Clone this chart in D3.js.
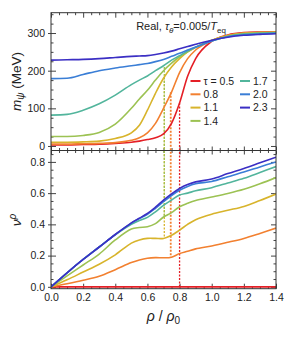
<!DOCTYPE html>
<html>
<head>
<meta charset="utf-8">
<script src="https://cdn.jsdelivr.net/npm/d3@7"></script>
<style>
  body { margin: 0; background: #fff; }
  text { font-family: "Liberation Sans", Arial, sans-serif; fill: #222; }
</style>
</head>
<body>
<svg id="chart" width="291" height="337"></svg>
<script>
// DATA

const rho = [0, 0.1, 0.2, 0.3, 0.4, 0.5, 0.55, 0.6, 0.65, 0.7, 0.75, 0.8, 0.85, 0.9, 1.0, 1.1, 1.2, 1.3, 1.4];
const taus = [0.5, 0.8, 1.1, 1.4, 1.7, 2.0, 2.3];
const tauLabels = ["τ = 0.5", "0.8", "1.1", "1.4", "1.7", "2.0", "2.3"];
const colors = ["#e41f26", "#f28030", "#d8b42c", "#9cc253", "#52b59c", "#3a7ed6", "#3b2fc4"];

// m_psi (MeV), one array per tau
const mass05 = [3, 3, 4, 5, 7, 10, 13, 17, 22, 32, 60, 114, 185, 232, 278, 295, 301, 302.5, 303];
const mass08 = [5, 5, 6, 7, 9, 15, 22, 35, 60, 100, 143, 195, 232, 255, 280, 294, 300, 302, 302.5];
const mass11 = [10, 10, 11, 13, 20, 35, 55, 95, 140, 180, 210, 232, 250, 262, 281, 293, 299, 301, 302];
const mass14 = [25, 25, 28, 36, 58, 100, 125, 148, 175, 200, 220, 237, 250, 262, 280, 292, 298, 300, 301];
const mass17 = [82, 84, 95, 112, 135, 163, 175, 186, 200, 213, 228, 240, 252, 262, 279, 291, 297, 299, 300.5];
const mass20 = [179, 180, 190, 200, 207, 213, 216, 219, 224, 230, 238, 246, 255, 263, 279, 290, 295, 297.5, 299.5];
const mass23 = [228, 229, 230, 232, 235, 238, 239, 240, 243, 247, 252, 258, 264, 270, 281, 289, 294, 296.5, 298];

// nu^rho, one array per tau
const nu05 = [0, 0, 0, 0, 0, 0, 0, 0, 0, 0, 0, 0, 0, 0, 0, 0, 0, 0, 0];
const nu08 = [0, 0.02, 0.042, 0.068, 0.11, 0.155, 0.172, 0.183, 0.187, 0.186, 0.19, 0.213, 0.228, 0.243, 0.262, 0.285, 0.31, 0.342, 0.376];
const nu11 = [0, 0.045, 0.095, 0.145, 0.205, 0.28, 0.30, 0.31, 0.31, 0.31, 0.33, 0.363, 0.40, 0.43, 0.465, 0.49, 0.515, 0.553, 0.594];
const nu14 = [0, 0.07, 0.14, 0.21, 0.30, 0.37, 0.38, 0.385, 0.405, 0.447, 0.475, 0.513, 0.535, 0.553, 0.575, 0.598, 0.625, 0.66, 0.70];
const nu17 = [0, 0.09, 0.175, 0.255, 0.333, 0.40, 0.425, 0.445, 0.48, 0.522, 0.556, 0.588, 0.60, 0.615, 0.635, 0.665, 0.695, 0.732, 0.77];
const nu20 = [0, 0.09, 0.175, 0.255, 0.335, 0.408, 0.437, 0.465, 0.503, 0.545, 0.585, 0.618, 0.643, 0.66, 0.675, 0.705, 0.735, 0.768, 0.80];
const nu23 = [0, 0.09, 0.175, 0.255, 0.335, 0.41, 0.44, 0.47, 0.51, 0.555, 0.595, 0.63, 0.655, 0.672, 0.69, 0.725, 0.758, 0.794, 0.83];

// dotted transition markers: series index, rho, m at top end, nu at bottom end
const markSeries = [2, 3, 1, 0];
const markRho = [0.705, 0.705, 0.745, 0.80];
const markMass = [183, 210, 143, 114];
const markNu = [0.317, 0.447, 0.188, 0];

const massSeries = [mass05, mass08, mass11, mass14, mass17, mass20, mass23];
const nuSeries = [nu05, nu08, nu11, nu14, nu17, nu20, nu23];

// LAYOUT

const plotLeft = 51, plotRight = 276, plotTop = 12.7, plotMid = 150.5, plotBottom = 288.7;
const svg = d3.select("#chart");

const x = d3.scaleLinear().domain([0, 1.4]).range([plotLeft, plotRight]);
const yTop = d3.scaleLinear().domain([-12, 354]).range([plotMid, plotTop]);
const yBot = d3.scaleLinear().domain([-0.012, 0.873]).range([plotBottom, plotMid]);

const xMajor = d3.range(0, 1.41, 0.2);
const xMinor = d3.range(0, 1.41, 0.05).filter(v => Math.abs(v / 0.2 - Math.round(v / 0.2)) > 0.01);
const mMajor = [0, 100, 200, 300];
const mMinor = d3.range(0, 351, 25).filter(v => v % 100 !== 0);
const nuMajor = [0, 0.2, 0.4, 0.6, 0.8];
const nuMinor = d3.range(0, 0.86, 0.05).filter(v => Math.abs(v / 0.2 - Math.round(v / 0.2)) > 0.01);

function styleAxis(g) {
    g.select(".domain").remove();
    g.selectAll("line").attr("stroke", "#444").attr("stroke-width", 1);
    g.selectAll("text").attr("font-size", 10.5).attr("font-family", "Liberation Sans, Arial, sans-serif").attr("fill", "#222");
}

function addAxis(axis, tx, ty) {
    svg.append("g").attr("transform", `translate(${tx},${ty})`).call(axis).call(styleAxis);
}

// x ticks: top edge, divider, bottom edge
addAxis(d3.axisBottom(x).tickValues(xMajor).tickSize(5).tickFormat(""), 0, plotTop);
addAxis(d3.axisBottom(x).tickValues(xMinor).tickSize(2.5).tickFormat(""), 0, plotTop);
addAxis(d3.axisBottom(x).tickValues(xMajor).tickSize(4).tickFormat(""), 0, plotMid);
addAxis(d3.axisTop(x).tickValues(xMajor).tickSize(4).tickFormat(""), 0, plotMid);
addAxis(d3.axisBottom(x).tickValues(xMinor).tickSize(2.5).tickFormat(""), 0, plotMid);
addAxis(d3.axisTop(x).tickValues(xMinor).tickSize(2.5).tickFormat(""), 0, plotMid);
addAxis(d3.axisBottom(x).tickValues(xMajor).tickSizeInner(-5).tickSizeOuter(0).tickPadding(5).tickFormat(d3.format(".1f")), 0, plotBottom);
addAxis(d3.axisTop(x).tickValues(xMinor).tickSize(2.5).tickFormat(""), 0, plotBottom);

// y ticks upper panel
addAxis(d3.axisLeft(yTop).tickValues(mMajor).tickSizeInner(-5).tickSizeOuter(0).tickPadding(6).tickFormat(d3.format("d")), plotLeft, 0);
addAxis(d3.axisLeft(yTop).tickValues(mMajor).tickSize(3).tickFormat(""), plotLeft, 0);
addAxis(d3.axisRight(yTop).tickValues(mMinor).tickSize(2.5).tickFormat(""), plotLeft, 0);
addAxis(d3.axisLeft(yTop).tickValues(mMajor).tickSize(5).tickFormat(""), plotRight, 0);
addAxis(d3.axisLeft(yTop).tickValues(mMinor).tickSize(2.5).tickFormat(""), plotRight, 0);

// y ticks lower panel
addAxis(d3.axisLeft(yBot).tickValues(nuMajor).tickSizeInner(-5).tickSizeOuter(0).tickPadding(6).tickFormat(d3.format(".1f")), plotLeft, 0);
addAxis(d3.axisLeft(yBot).tickValues(nuMajor).tickSize(3).tickFormat(""), plotLeft, 0);
addAxis(d3.axisRight(yBot).tickValues(nuMinor).tickSize(2.5).tickFormat(""), plotLeft, 0);
addAxis(d3.axisLeft(yBot).tickValues(nuMajor).tickSize(5).tickFormat(""), plotRight, 0);
addAxis(d3.axisLeft(yBot).tickValues(nuMinor).tickSize(2.5).tickFormat(""), plotRight, 0);

// clip each panel
const defs = svg.append("defs");
defs.append("clipPath").attr("id", "clipTop").append("rect")
    .attr("x", plotLeft).attr("y", plotTop).attr("width", plotRight - plotLeft).attr("height", plotMid - plotTop);
defs.append("clipPath").attr("id", "clipBot").append("rect")
    .attr("x", plotLeft).attr("y", plotMid).attr("width", plotRight - plotLeft).attr("height", plotBottom - plotMid);

// dotted markers (drawn under the curves)
const marks = svg.append("g");
markSeries.forEach((s, i) => {
    marks.append("line")
        .attr("x1", x(markRho[i])).attr("x2", x(markRho[i]))
        .attr("y1", yTop(markMass[i])).attr("y2", yBot(markNu[i]))
        .attr("stroke", colors[s])
        .attr("stroke-width", s === 1 ? 1.8 : 1.3)
        .attr("stroke-dasharray", "2,1.5");
});

const lineTop = d3.line().x((d, i) => x(rho[i])).y(d => yTop(d)).curve(d3.curveMonotoneX);
const lineBot = d3.line().x((d, i) => x(rho[i])).y(d => yBot(d)).curve(d3.curveCatmullRom.alpha(0.5));

svg.append("g").attr("clip-path", "url(#clipTop)")
    .selectAll("path").data(massSeries).join("path")
    .attr("d", lineTop)
    .attr("fill", "none")
    .attr("stroke", (d, i) => colors[i])
    .attr("stroke-width", 1.6);

svg.append("g").attr("clip-path", "url(#clipBot)")
    .selectAll("path").data(nuSeries).join("path")
    .attr("d", lineBot)
    .attr("fill", "none")
    .attr("stroke", (d, i) => colors[i])
    .attr("stroke-width", 1.6);

// frame and divider
svg.append("rect")
    .attr("x", plotLeft).attr("y", plotTop).attr("width", plotRight - plotLeft).attr("height", plotBottom - plotTop)
    .attr("fill", "none").attr("stroke", "#333").attr("stroke-width", 1);
svg.append("line")
    .attr("x1", plotLeft).attr("x2", plotRight).attr("y1", plotMid).attr("y2", plotMid)
    .attr("stroke", "#333").attr("stroke-width", 1);

// title
const title = svg.append("text").attr("x", 226).attr("y", 30).attr("text-anchor", "end").attr("font-size", 11);
title.append("tspan").text("Real, ");
title.append("tspan").attr("font-style", "italic").text("τ");
title.append("tspan").attr("font-size", 8).attr("font-style", "italic").attr("dy", 2.5).text("θ");
title.append("tspan").attr("dy", -2.5).text("=0.005/");
title.append("tspan").attr("font-style", "italic").text("T");
title.append("tspan").attr("font-size", 8).attr("dy", 2.5).text("eq");

// legend
const legend = svg.append("g");
taus.forEach((t, i) => {
    const col = i < 4 ? 0 : 1;
    const row = i < 4 ? i : i - 4;
    const lx = col === 0 ? 190.5 : 240;
    const ly = 81 + row * 13.3;
    legend.append("line")
        .attr("x1", lx).attr("x2", lx + 10).attr("y1", ly).attr("y2", ly)
        .attr("stroke", colors[i]).attr("stroke-width", 2);
    legend.append("text")
        .attr("x", lx + 13).attr("y", ly + 3.8)
        .attr("font-size", 10.5)
        .text(tauLabels[i]);
});

// axis labels
const ml = svg.append("text")
    .attr("transform", `translate(21,${(plotTop + plotMid) / 2}) rotate(-90)`)
    .attr("text-anchor", "middle").attr("font-size", 13.5);
ml.append("tspan").attr("font-style", "italic").text("m");
ml.append("tspan").attr("font-style", "italic").attr("font-size", 10).attr("dy", 3).text("ψ");
ml.append("tspan").attr("dy", -3).text(" (MeV)");

const nl = svg.append("text")
    .attr("transform", `translate(21,220) rotate(-90)`)
    .attr("text-anchor", "middle").attr("font-size", 13.5);
nl.append("tspan").attr("font-style", "italic").text("ν");
nl.append("tspan").attr("font-style", "italic").attr("font-size", 10).attr("dy", -5).text("ρ");

const xl = svg.append("text")
    .attr("x", (plotLeft + plotRight) / 2).attr("y", 321)
    .attr("text-anchor", "middle").attr("font-size", 14);
xl.append("tspan").attr("font-style", "italic").text("ρ");
xl.append("tspan").text(" / ");
xl.append("tspan").attr("font-style", "italic").text("ρ");
xl.append("tspan").attr("font-size", 10).attr("dy", 3).text("0");
</script>
</body>
</html>
